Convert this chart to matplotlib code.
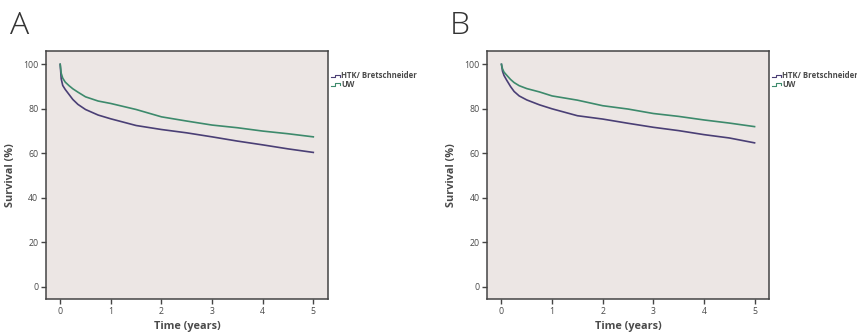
import matplotlib
matplotlib.use("Agg")
import matplotlib.pyplot as plt
from matplotlib.lines import Line2D

plt.rcParams['font.family'] = ['Open Sans', 'DejaVu Sans']

# Data
time_years = [0, 0.02, 0.05, 0.1, 0.18, 0.25, 0.35, 0.5, 0.75, 1, 1.5, 2, 2.5, 3, 3.5, 4, 4.5, 5]
a_htk = [100, 93.5, 90.5, 88.7, 86.3, 84.2, 82.0, 79.7, 77.2, 75.5, 72.5, 70.7, 69.2, 67.4, 65.5, 63.8, 62.0, 60.4]
a_uw = [100, 96.0, 93.8, 92.0, 90.3, 89.0, 87.5, 85.4, 83.5, 82.4, 79.7, 76.4, 74.5, 72.7, 71.5, 70.0, 68.8, 67.4]
b_htk = [100, 97.0, 95.0, 93.0, 90.0, 87.8, 85.8, 84.0, 81.8, 80.0, 76.9, 75.4, 73.5, 71.7, 70.2, 68.4, 66.9, 64.7]
b_uw = [100, 98.0, 96.5, 95.2, 93.2, 91.8, 90.4, 89.1, 87.6, 85.8, 83.9, 81.4, 79.9, 77.9, 76.6, 75.0, 73.6, 72.0]
series_labels = ["HTK/ Bretschneider", "UW"]
panel_labels = ["A", "B"]
x_ticks = [0, 1, 2, 3, 4, 5]
y_ticks = [0, 20, 40, 60, 80, 100]

c_htk = "#4a3f75"
c_uw = "#3d8a6c"
bg = "#ece6e4"
txt = "#4a4a4a"

fig = plt.figure(figsize=(8.57, 3.32), dpi=100)
fig.patch.set_facecolor("white")

panels = [
    (0.0537, a_htk, a_uw),
    (0.5686, b_htk, b_uw),
]
label_x = [10 / 857, 450 / 857]

for i, (left, htk, uw) in enumerate(panels):
    ax = fig.add_axes([left, 0.0994, 0.329, 0.747])
    ax.set_facecolor(bg)
    ax.plot(time_years, htk, color=c_htk, lw=1.2)
    ax.plot(time_years, uw, color=c_uw, lw=1.2)
    ax.set_xlim(-0.28, 5.29)
    ax.set_ylim(-5.5, 106)
    ax.set_xticks(x_ticks)
    ax.set_yticks(y_ticks)
    ax.tick_params(direction='out', length=3.5, width=1, colors="#444444",
                   labelsize=6.3, labelcolor=txt, pad=2)
    for s in ax.spines.values():
        s.set_color("#444444")
        s.set_linewidth(1.1)
    ax.set_xlabel("Time (years)", fontsize=7.8, fontweight='bold', color=txt, labelpad=4)
    ax.set_ylabel("Survival (%)", fontsize=7.8, fontweight='bold', color=txt, labelpad=5)

    # legend outside on the right with step icons
    pos = ax.get_position()
    x0 = pos.x1 + 3 / 857
    for j, (lab, col) in enumerate(zip(series_labels, [c_htk, c_uw])):
        yy = 1 - (76 + 8.5 * j) / 332
        dy = 3 / 332
        xs = [x0, x0 + 4 / 857, x0 + 4 / 857, x0 + 9 / 857, x0 + 9 / 857]
        ys = [yy - dy / 2, yy - dy / 2, yy + dy / 2, yy + dy / 2, yy - dy / 4]
        fig.add_artist(Line2D(xs, ys, color=col, lw=0.8, transform=fig.transFigure))
        fig.text(x0 + 10 / 857, yy, lab, fontsize=5.6, fontweight='bold',
                 color=txt, va='center', ha='left')

    fig.text(label_x[i], 1 - 34 / 332, panel_labels[i], fontsize=23, color="#333333",
             fontweight='light', va='baseline', ha='left')

fig.savefig("out.png", dpi=100)
